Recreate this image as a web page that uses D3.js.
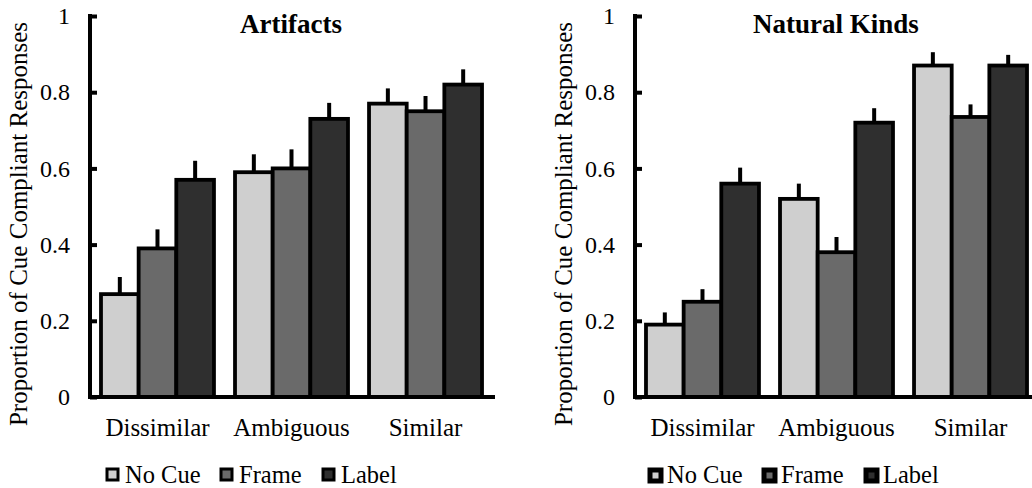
<!DOCTYPE html>
<html>
<head>
<meta charset="utf-8">
<title>Cue Compliant Responses</title>
<style>
  body { margin: 0; background: #fff; }
  svg text { font-family: "Liberation Serif", "Tinos", "Times New Roman", "DejaVu Serif", serif !important; fill: #000; }
</style>
</head>
<body>
<script src="https://cdn.jsdelivr.net/npm/d3@7"></script>
<script>
// categories and series
var groups = ["Dissimilar", "Ambiguous", "Similar"];
var cues = ["No Cue", "Frame", "Label"];
var yTicks = [0, 0.2, 0.4, 0.6, 0.8, 1];

// means per group, in cue order
var artifactsMeans = [[0.27, 0.39, 0.57], [0.59, 0.60, 0.73], [0.77, 0.75, 0.82]];
var artifactsErr   = [[0.045, 0.05, 0.05], [0.047, 0.05, 0.042], [0.04, 0.04, 0.04]];
var naturalMeans   = [[0.19, 0.25, 0.56], [0.52, 0.38, 0.72], [0.87, 0.735, 0.87]];
var naturalErr     = [[0.032, 0.033, 0.042], [0.04, 0.04, 0.038], [0.035, 0.033, 0.028]];

var fills = ["#cfcfcf", "#6a6a6a", "#2f2f2f"];
var serif = "'Liberation Serif', 'Tinos', 'Times New Roman', 'DejaVu Serif', serif";

var W = 1032, H = 488;
var svg = d3.select("body").append("svg")
    .attr("width", W)
    .attr("height", H);

function panel(offsetX, title, means, errs, legendBox) {
  var g = svg.append("g").attr("transform", "translate(" + offsetX + ",0)");

  var x0 = d3.scaleBand().domain(groups).range([90, 493])
      .paddingInner(0.157).paddingOuter(0.082);
  var x1 = d3.scaleBand().domain(cues).range([0, x0.bandwidth()]);
  var y = d3.scaleLinear().domain([0, 1]).range([397, 16]);

  // bars
  var grp = g.selectAll(".grp").data(groups).enter().append("g")
      .attr("transform", function(d) { return "translate(" + x0(d) + ",0)"; });

  grp.each(function(gname, gi) {
    var sel = d3.select(this);
    var rows = cues.map(function(c, ci) {
      return { cue: c, i: ci, v: means[gi][ci], e: errs[gi][ci] };
    });
    // error bars (upper half only)
    sel.selectAll("line.err").data(rows).enter().append("line")
        .attr("x1", function(d) { return x1(d.cue) + x1.bandwidth() / 2; })
        .attr("x2", function(d) { return x1(d.cue) + x1.bandwidth() / 2; })
        .attr("y1", function(d) { return y(d.v); })
        .attr("y2", function(d) { return y(d.v + d.e); })
        .attr("stroke", "#000")
        .attr("stroke-width", 4);
    sel.selectAll("rect").data(rows).enter().append("rect")
        .attr("x", function(d) { return x1(d.cue); })
        .attr("y", function(d) { return y(d.v); })
        .attr("width", x1.bandwidth())
        .attr("height", function(d) { return y(0) - y(d.v); })
        .attr("fill", function(d) { return fills[d.i]; })
        .attr("stroke", "#000")
        .attr("stroke-width", 3.8);
  });

  // y axis, ticks point inward
  var yAxis = g.append("g")
      .attr("transform", "translate(90,0)")
      .call(d3.axisLeft(y).tickValues(yTicks).tickSize(-7).tickPadding(20)
        .tickFormat(function(d) { return d === 0 || d === 1 ? d : d3.format(".1f")(d); }));
  yAxis.attr("font-family", serif).attr("font-size", 24);
  yAxis.select(".domain").remove();
  yAxis.selectAll(".tick line").attr("stroke", "#000").attr("stroke-width", 4);
  yAxis.selectAll(".tick text").attr("font-size", 24).attr("font-family", serif);
  g.append("line")
      .attr("x1", 90).attr("x2", 90)
      .attr("y1", y(1) - 2).attr("y2", y(0) + 2)
      .attr("stroke", "#000").attr("stroke-width", 4);

  // x axis
  g.append("line")
      .attr("x1", 88).attr("x2", 495)
      .attr("y1", y(0)).attr("y2", y(0))
      .attr("stroke", "#000").attr("stroke-width", 4);
  g.selectAll(".cat").data(groups).enter().append("text")
      .attr("x", function(d) { return x0(d) + x0.bandwidth() / 2; })
      .attr("y", 436)
      .attr("text-anchor", "middle")
      .attr("font-family", serif)
      .attr("font-size", 25)
      .text(function(d) { return d; });

  // title
  g.append("text")
      .attr("x", 291).attr("y", 33)
      .attr("text-anchor", "middle")
      .attr("font-family", serif)
      .attr("font-size", 27)
      .attr("font-weight", "bold")
      .text(title);

  // y title
  g.append("text")
      .attr("transform", "translate(27,224) rotate(-90)")
      .attr("text-anchor", "middle")
      .attr("font-family", serif)
      .attr("font-size", 25)
      .text("Proportion of Cue Compliant Responses");

  // legend
  var legX = [legendBox.x0, legendBox.x0 + 114, legendBox.x0 + 216];
  var leg = g.selectAll(".leg").data(cues).enter().append("g")
      .attr("transform", function(d, i) { return "translate(" + legX[i] + ",0)"; });
  leg.append("rect")
      .attr("x", legendBox.inset).attr("y", 469 + legendBox.inset - 1)
      .attr("width", legendBox.size).attr("height", legendBox.size)
      .attr("fill", function(d, i) { return fills[i]; })
      .attr("stroke", "#000")
      .attr("stroke-width", legendBox.sw);
  leg.append("text")
      .attr("x", 19).attr("y", 483)
      .attr("font-family", serif)
      .attr("font-size", 24.5)
      .text(function(d) { return d; });
}

panel(0, "Artifacts", artifactsMeans, artifactsErr, { x0: 106, size: 11, inset: 1, sw: 3 });
panel(545, "Natural Kinds", naturalMeans, naturalErr, { x0: 103, size: 11, inset: 2, sw: 5 });
</script>
</body>
</html>
